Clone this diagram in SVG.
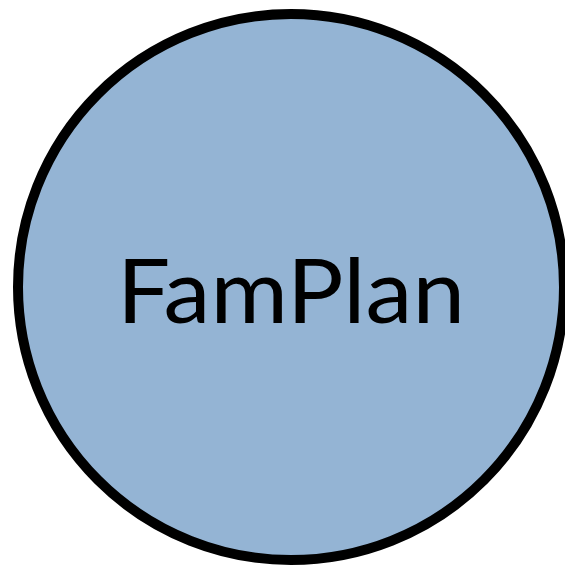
<svg xmlns="http://www.w3.org/2000/svg" width="565" height="565" viewBox="0 0 565 565">
<style>
.node-shape{fill:#94B4D4;stroke:#000;stroke-width:10}
.node-label{font-family:Lato,"Liberation Sans",sans-serif;font-size:90px;fill:#000;text-anchor:middle}
</style>
<rect width="565" height="565" fill="#fff"/>
<g id="connectors"></g>
<g id="node-famplan">
<circle class="node-shape" cx="291" cy="287" r="273"/>
<text class="node-label" x="291" y="323" textLength="348" lengthAdjust="spacingAndGlyphs">FamPlan</text>
</g>
</svg>
